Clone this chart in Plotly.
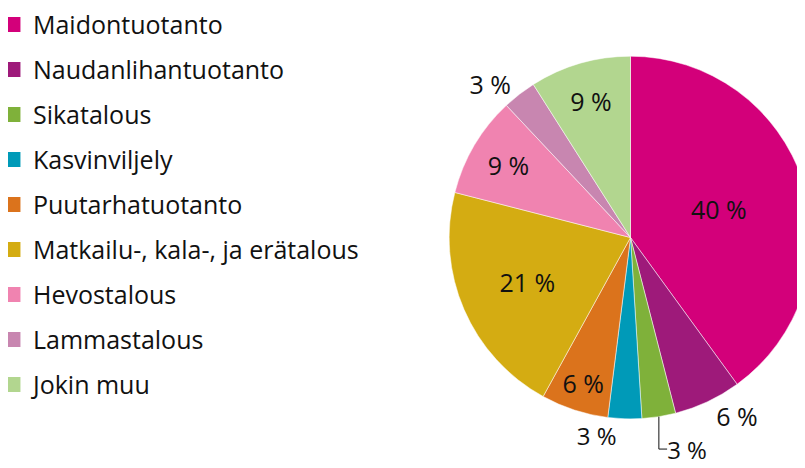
import plotly.graph_objects as go

categories = ["Maidontuotanto", "Naudanlihantuotanto", "Sikatalous", "Kasvinviljely",
              "Puutarhatuotanto", "Matkailu-, kala-, ja erätalous", "Hevostalous",
              "Lammastalous", "Jokin muu"]
values = [40, 6, 3, 3, 6, 21, 9, 3, 9]
colors = ["#D3007A", "#9E1A7A", "#7FB13A", "#009AB8", "#DB731C",
          "#D4AC12", "#F083B0", "#C886B0", "#B2D68F"]
text_positions = ["inside", "outside", "outside", "outside", "inside",
                  "inside", "inside", "outside", "inside"]
label_sizes = [25, 25, 24, 24, 25, 25, 25, 25, 25]

FONT = "Open Sans"
TXT = "#111111"
FS = 25

fig = go.Figure()

fig.add_trace(go.Pie(
    labels=categories,
    values=values,
    sort=False,
    direction="clockwise",
    rotation=0,
    marker=dict(colors=colors, line=dict(color="white", width=0.5)),
    texttemplate="%{value} %",
    textposition=text_positions,
    insidetextorientation="horizontal",
    textfont=dict(family=FONT, size=label_sizes, color=TXT),
    domain=dict(x=[440/805, 1.0], y=[0.122, 0.897]),
    hoverinfo="label+value",
    showlegend=False,
))

# legend entries (one per category, square swatches)
for name, col in zip(categories, colors):
    fig.add_trace(go.Scatter(
        x=[None], y=[None], mode="markers", name=name,
        marker=dict(symbol="square", size=15, color=col),
        legendgroup=name, showlegend=True, hoverinfo="skip",
    ))

fig.update_layout(
    width=805, height=468,
    margin=dict(l=0, r=0, t=0, b=0, autoexpand=False),
    paper_bgcolor="white",
    plot_bgcolor="white",
    font=dict(family=FONT, color=TXT),
    xaxis=dict(visible=False),
    yaxis=dict(visible=False),
    legend=dict(x=-0.0187, y=0.5797, xanchor="left", yanchor="middle",
                font=dict(family=FONT, size=FS, color=TXT),
                traceorder="grouped", tracegroupgap=9.5,
                itemclick=False, itemdoubleclick=False,
                bgcolor="rgba(0,0,0,0)"),
)

fig.write_html("out.html")
